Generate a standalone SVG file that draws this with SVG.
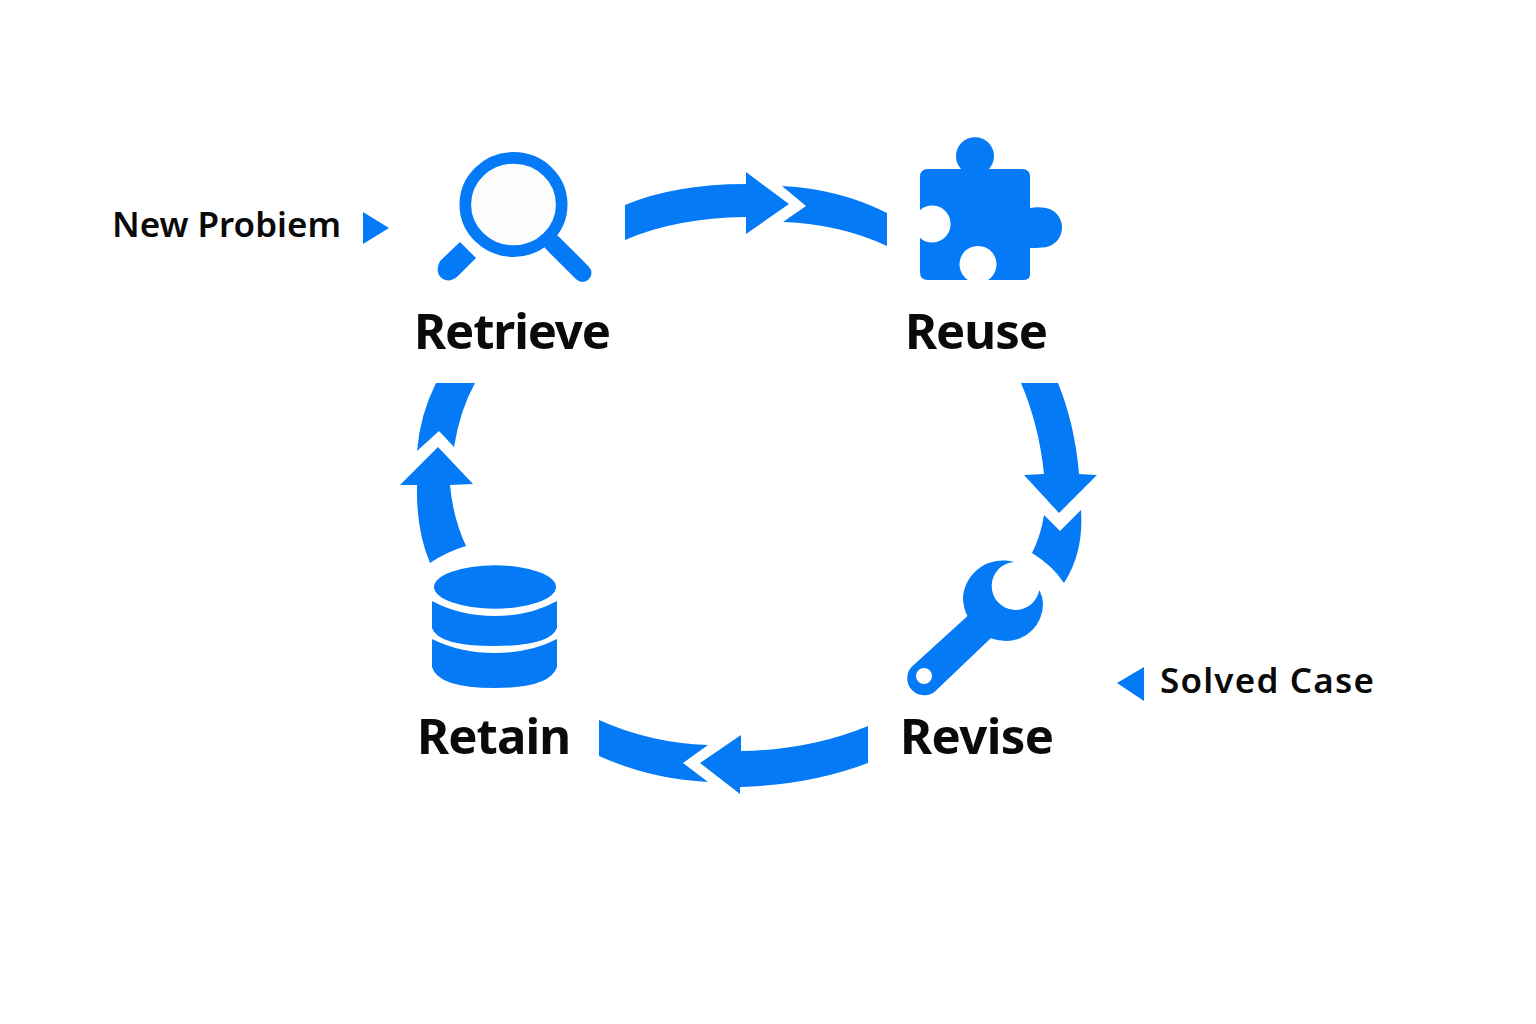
<svg xmlns="http://www.w3.org/2000/svg" width="1536" height="1024" viewBox="0 0 1536 1024">
<style>
.b{fill:#047af7}
text{font-family:"Noto Sans","Open Sans","Liberation Sans",sans-serif;font-weight:700;fill:#0a0a0a}
.t{font-size:49px}
.s{font-size:35px;font-weight:600}
</style>
<rect width="1536" height="1024" fill="#fff"/>
<g id="connectors" class="b">
<path d="M625 205Q675 184 746 184V172L789 204L746 234V217Q675 218 625 240Z"/>
<path d="M782 186Q840 189 887 213V246Q840 224 783 222L806 206Z"/>
<path d="M1021 383H1058Q1075 425 1079 474L1097 475L1059 513L1024 475L1044 474Q1039 425 1021 383Z"/>
<path d="M1081 510Q1084 552 1064 583Q1052 565 1032 553Q1041 535 1044 515L1060 531Z"/>
<path d="M868 726Q810 750 741 751V735L700 763L740 794V787Q810 785 868 763Z"/>
<path d="M599 720Q650 743 708 745L683 763L708 782Q650 779 599 756Z"/>
<path d="M430 563Q416 530 417 485H400L438 447L473 484L450 485Q453 518 466 546Q446 552 430 563Z"/>
<path d="M436 383H475Q460 410 454 447L439 431L417 451Q420 415 436 383Z"/>
<path d="M363 212L389 228L363 244Z"/>
<path d="M1144 667L1117 683L1144 701Z"/>
</g>
<g id="retrieve">
<ellipse cx="513.5" cy="204.5" rx="42.5" ry="41" fill="#fcfcfd"/>
<ellipse cx="513.5" cy="204.5" rx="48.2" ry="46.6" fill="none" stroke="#047af7" stroke-width="11.6"/>
<path d="M552 242.5L582.5 273" fill="none" stroke="#047af7" stroke-width="18" stroke-linecap="round"/>
<path class="b" d="M460 242L476 258L458 276Q450 283 443 279Q434 273 440 261Z"/>
<text class="t" x="414" y="349" textLength="197">Retrieve</text>
</g>
<g id="reuse">
<path class="b" d="M928 169H961A19 19 0 1 1 989 169H1022Q1030 169 1030 177V208Q1036 207 1042 207.5A20 20 0 1 1 1042 247.5Q1036 248 1030 248V272Q1031 280 1023 280H988A18.5 18.5 0 1 0 968 280H928Q920 280 920 272V238A18.5 18.5 0 1 0 920 210V177Q920 169 928 169Z"/>
<text class="t" x="905" y="349" textLength="143">Reuse</text>
</g>
<g id="revise">
<path class="b" fill-rule="evenodd" d="M1014 562A40 40 0 0 0 963 597Q963 608 967.5 616L911.5 667A17 17 0 0 0 935.5 691L990.7 638.3Q998 641 1006 641A37 37 0 0 0 1043 604Q1043 597 1039.3 590A24 24 0 1 1 1014 562ZM932 676A8 8 0 1 0 916 676A8 8 0 1 0 932 676Z"/>
<text class="t" x="900" y="754" textLength="154">Revise</text>
</g>
<g id="retain">
<ellipse class="b" cx="495" cy="587" rx="61" ry="21.7"/>
<path class="b" d="M432 601Q460 616 495 616Q530 616 557 601V628Q550 646 495 646Q438 646 432 628Z"/>
<path class="b" d="M432 639Q460 653 495 653Q530 653 557 639V667Q550 688 495 688Q438 688 432 667Z"/>
<text class="t" x="417" y="754" textLength="154">Retain</text>
</g>
<g id="new-problem">
<text class="s" x="112" y="237" textLength="229">New Probiem</text>
</g>
<g id="solved-case">
<text class="s" x="1160" y="693" textLength="214">Solved Case</text>
</g>
</svg>
